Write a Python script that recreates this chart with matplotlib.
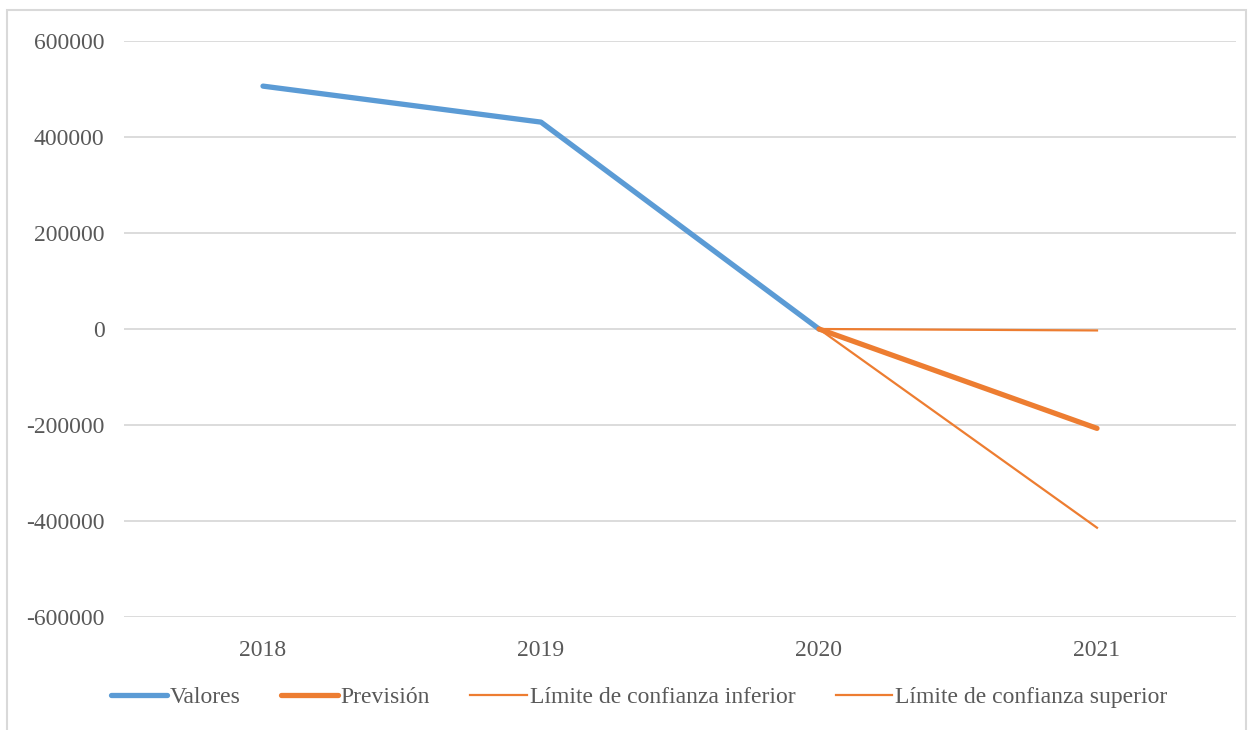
import matplotlib
matplotlib.use('Agg')
from matplotlib import pyplot as plt
from matplotlib.patches import Rectangle

years = ['2018', '2019', '2020', '2021']
valores = [506000, 431000, 0, None]
prevision = [None, None, 0, -207000]
limite_inferior = [None, None, 0, -3000]
limite_superior = [None, None, 0, -414000]
y_ticks = [-600000, -400000, -200000, 0, 200000, 400000, 600000]

BLUE = '#5b9bd5'
ORANGE = '#ed7d31'
TEXT = '#595959'
GRID = '#d9d9d9'

plt.rcParams['font.family'] = ['Liberation Serif', 'DejaVu Serif']


def series(values):
    xs = [i for i, v in enumerate(values) if v is not None]
    ys = [v for v in values if v is not None]
    return xs, ys


fig = plt.figure(figsize=(12.54, 7.30), dpi=100)
ax = fig.add_axes([124 / 1254, 113 / 730, (1236 - 124) / 1254, 576 / 730])

x, y = series(valores)
ax.plot(x, y, color=BLUE, lw=3.8, solid_capstyle='round', label='Valores', zorder=3)
x, y = series(prevision)
ax.plot(x, y, color=ORANGE, lw=3.8, solid_capstyle='round', label='Previsión', zorder=4)
x, y = series(limite_inferior)
ax.plot(x, y, color=ORANGE, lw=1.6, label='Límite de confianza inferior', zorder=4)
x, y = series(limite_superior)
ax.plot(x, y, color=ORANGE, lw=1.6, label='Límite de confianza superior', zorder=4)

ax.set_xlim(-0.5, len(years) - 0.5)
ax.set_ylim(-600000, 600000)
ax.set_xticks(range(len(years)))
ax.set_xticklabels(years)
ax.set_yticks(y_ticks)
ax.set_yticklabels([str(t) for t in y_ticks])
ax.tick_params(length=0, colors=TEXT, labelsize=17)
ax.tick_params(axis='x', pad=16.5)
ax.tick_params(axis='y', pad=14)
ax.yaxis.grid(True, color=GRID, lw=1.3)
ax.set_axisbelow(True)
for s in ax.spines.values():
    s.set_visible(False)

leg = fig.legend(loc='center', bbox_to_anchor=(0.5 + 12 / 1254, 33 / 730), ncol=4, frameon=False,
                 fontsize=17, handlelength=2.4, handletextpad=0.12, columnspacing=1.7)
for t in leg.get_texts():
    t.set_color(TEXT)

fig.patches.append(Rectangle((7 / 1254, -0.05), 1239 / 1254, 1.05 - 10 / 730,
                             transform=fig.transFigure, fill=False, ec=GRID, lw=1.5))

fig.savefig('out.png', dpi=100)
plt.close(fig)
